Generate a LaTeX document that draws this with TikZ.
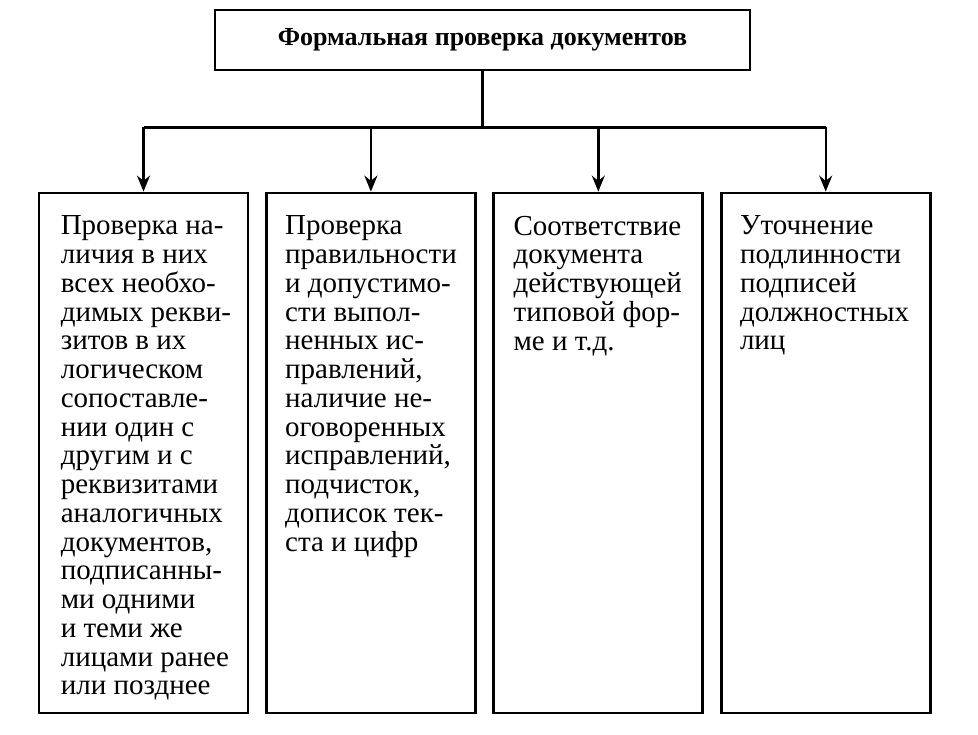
\documentclass[tikz,border=0pt]{standalone}
\usepackage{fontspec}
\setmainfont{Liberation Serif}
\usetikzlibrary{positioning,arrows.meta}

\begin{document}
\begin{tikzpicture}[x=0.5pt,y=-0.5pt,>={Stealth[length=8pt,width=6.5pt]},
		line width=1.2pt,node distance=7.8pt]
		\tikzstyle{block}=[draw=black,line width=1.4pt,minimum width=104.5pt,minimum height=260pt,inner sep=0pt]
		\tikzstyle{blocktext}=[anchor=north west,inner sep=0pt,align=left,font=\fontsize{14.5}{14.375}\selectfont]
		
		\useasboundingbox (0,0) rectangle (978,734);
		
		\node[draw=black,line width=1.4pt,minimum width=267.5pt,minimum height=30pt,
			font=\bfseries\fontsize{13}{16}\selectfont] (F) at (482.5,40) {Формальная проверка документов};
		
		\node[block] (B1) at (143.5,453) {};
		
		\node[block] (B2)[right=of B1] {};
		
		\node[block] (B3)[right=of B2] {};
		
		\node[block] (B4)[right=of B3] {};
		
		\node[blocktext] (T1) at ([xshift=11pt,yshift=-11.5pt]B1.north west)
			{Проверка на-\\личия в них\\всех необхо-\\димых рекви-\\зитов в их\\логическом\\сопоставле-\\нии один с\\другим и с\\реквизитами\\аналогичных\\документов,\\подписанны-\\ми одними\\и теми же\\лицами ранее\\или позднее};
		
		\node[blocktext] (T2) at ([xshift=9.5pt,yshift=-11.5pt]B2.north west)
			{Проверка\\правильности\\и допустимо-\\сти выпол-\\ненных ис-\\правлений,\\наличие не-\\оговоренных\\исправлений,\\подчисток,\\дописок тек-\\ста и цифр};
		
		\node[blocktext] (T3) at ([xshift=10pt,yshift=-11.5pt]B3.north west)
			{Соответствие\\документа\\действующей\\типовой фор-\\ме и т.д.};
		
		\node[blocktext] (T4) at ([xshift=9.5pt,yshift=-11.5pt]B4.north west)
			{Уточнение\\подлинности\\подписей\\должностных\\лиц};
		
		\draw (F.south) -- ++(0,56) coordinate (bus);
		
		\draw (B1.north |- bus) -- (B4.north |- bus);
		
		\foreach \n in {B1,B2,B3,B4}
			\draw[->] (\n.north |- bus) -- (\n.north);
		\end{tikzpicture}
\end{document}
